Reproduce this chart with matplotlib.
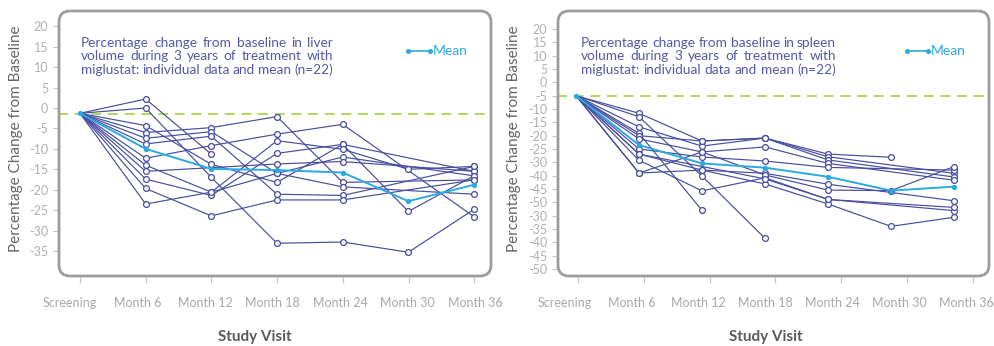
"""Liver / spleen volume change under miglustat: individual patients + mean."""
import matplotlib
matplotlib.use("Agg")
import matplotlib.pyplot as plt
import numpy as np
from matplotlib.patches import FancyBboxPatch

nan = np.nan

VISITS = ["Screening", "Month 6", "Month 12", "Month 18",
          "Month 24", "Month 30", "Month 36"]

# liver: % change from baseline, one row per patient (nan = no visit)
LIVER_PATIENTS = [
    [-1.3, 2.2, -11.3, nan, nan, nan, nan],
    [-1.3, 0.0, -17.0, -33.1, -32.8, -35.3, -24.8],
    [-1.3, -4.3, -13.8, -18.2, -8.9, nan, -15.5],
    [-1.3, -6.0, -4.8, -2.1, -18.2, nan, -17.6],
    [-1.3, -7.4, -5.8, -16.0, -12.0, nan, -16.6],
    [-1.3, -8.8, -6.9, -21.1, -21.4, nan, -14.3],
    [-1.3, -12.3, -9.2, -6.4, -4.0, nan, -26.6],
    [-1.3, -14.0, -20.6, -16.0, -19.3, nan, -21.1],
    [-1.3, -15.5, nan, -13.7, -13.1, nan, -15.5],
    [-1.3, -17.4, -21.4, -11.1, -8.9, -25.3, -16.6],
    [-1.3, -19.7, -26.4, -22.5, -22.5, nan, -17.6],
    [-1.3, -23.5, -20.6, -8.0, -10.1, -15.0, -14.3],
]
LIVER_MEAN = [-1.3, -10.0, -14.9, -15.2, -15.8, -22.8, -18.8]
LIVER_REF = -1.5
LIVER_YTICKS = [20, 15, 10, 5, 0, -5, -10, -15, -20, -25, -30, -35]

SPLEEN_PATIENTS = [
    [-5, -11.6, -22.0, -20.9, -26.9, -28.1, nan],
    [-5, -12.9, -35.1, -58.5, nan, nan, nan],
    [-5, -16.7, -23.9, -20.9, -27.9, nan, -34.1],
    [-5, -19.1, -48.0, nan, nan, nan, nan],
    [-5, -20.0, -22.0, -20.9, -29.1, nan, -35.5],
    [-5, -21.2, -26.1, -24.2, -30.4, nan, -36.7],
    [-5, -25.0, -28.0, -29.5, -31.9, nan, -32.9],
    [-5, -26.9, -32.9, -34.1, -38.2, nan, -44.4],
    [-5, -29.2, -40.7, -35.8, -43.9, nan, -48.1],
    [-5, -34.0, -32.9, -38.1, -45.6, -54.0, -50.6],
    [-5, -34.0, -26.1, -34.7, -40.4, -40.6, -31.6],
    [-5, -26.9, nan, -36.2, -43.9, nan, -46.9],
]
SPLEEN_MEAN = [-5, -23.5, -30.4, -32.0, -35.4, -40.6, -39.1]
SPLEEN_REF = -5
# the source figure's spleen axis labels repeat after -50; kept as printed
SPLEEN_YTICK_LABELS = ["20", "15", "10", "5", "0", "-5", "-10", "-15", "-20",
                       "-25", "-30", "-40", "-45", "-50", "-30", "-35", "-40",
                       "-45", "-50"]

LIVER_TITLE = ["Percentage change from baseline in liver",
               "volume during 3 years of treatment with",
               "miglustat: individual data and mean (n=22)"]
SPLEEN_TITLE = ["Percentage change from baseline in spleen",
                "volume during 3 years of treatment with",
                "miglustat: individual data and mean (n=22)"]

W, H = 994, 346
LINE = "#474c9f"
TITLE = "#5558a8"
CYAN = "#2aaae1"
GREEN = "#a6cf3e"
FRAME = "#9d9d9d"

plt.rcParams["font.family"] = ["Lato", "DejaVu Sans"]


def px_axes(fig, left, top, right, bottom):
    return fig.add_axes([left / W, 1 - bottom / H, (right - left) / W, (bottom - top) / H])


def justified(fig, lines, x0, x1, baselines, **kw):
    """Draw each line word by word, stretched to span x0..x1 (pixels)."""
    r = fig.canvas.get_renderer()
    for line, yb in zip(lines, baselines):
        words = line.split()
        texts = [fig.text(0, 1 - yb / H, w, va="baseline", **kw) for w in words]
        widths = [t.get_window_extent(r).width for t in texts]
        gap = (x1 - x0 - sum(widths)) / max(len(words) - 1, 1)
        x = x0
        for t, w in zip(texts, widths):
            t.set_x(x / W)
            x += w + gap


def panel(fig, box, xlim, ylim, patients, mean, ref, yticks, ylabels,
          tick_px, label_px, title, title_x, legend_x, ylabel_x, study_x):
    left, top, right, bottom = box
    ax = px_axes(fig, left, top, right, bottom)
    ax.set_xlim(xlim)
    ax.set_ylim(ylim)
    for s in ax.spines.values():
        s.set_visible(False)

    ax.axhline(ref, color=GREEN, lw=1.2, ls=(0, (6, 4)), zorder=1)
    for row in patients:
        y = np.asarray(row, float)
        x = np.arange(len(y))
        m = ~np.isnan(y)
        ax.plot(x[m], y[m], color=LINE, lw=0.85, zorder=2)
        ax.plot(x[m][1:], y[m][1:], ls="none", marker="o", ms=4.2,
                mfc="white", mec=LINE, mew=0.9, zorder=3)
    ax.plot(np.arange(len(mean)), mean, color=CYAN, lw=1.4, marker="o",
            ms=2.8, zorder=4)

    ax.set_yticks(yticks)
    ax.set_yticklabels(ylabels)
    ax.tick_params(axis="y", length=3.6, width=0.8, color="#c4c4c4",
                   labelcolor="#b0b0b0", labelsize=9, pad=3.5)
    # tick marks in pixel space -> data units
    px_per_unit = (right - left) / (xlim[1] - xlim[0])
    ax.set_xticks([xlim[0] + (p - left) / px_per_unit for p in tick_px])
    ax.set_xticklabels([])
    ax.tick_params(axis="x", length=4, width=0.9, color="#c4c4c4")

    for name, p in zip(VISITS, label_px):
        fig.text(p / W, 1 - 303 / H, name, ha="center", va="center",
                 fontsize=9, color="#a8a8a8")

    frame = FancyBboxPatch(((left + 1) / 100, (H - bottom + 1) / 100),
                           (right - left - 2) / 100, (bottom - top - 2) / 100,
                           boxstyle="round,pad=0,rounding_size=0.11",
                           transform=fig.dpi_scale_trans, fill=False,
                           ec=FRAME, lw=2.0, zorder=5)
    fig.add_artist(frame)

    justified(fig, title, title_x[0], title_x[1], [47, 60.5, 74],
              fontsize=9.8, color=TITLE)

    lx0, lx1 = legend_x
    fig.add_artist(plt.Line2D([lx0 / W, lx1 / W], [1 - 51 / H] * 2, color=CYAN,
                              lw=1.2, marker="o", ms=2.6, transform=fig.transFigure))
    fig.text((lx1 + 3) / W, 1 - 51 / H, "Mean", va="center", fontsize=10, color=CYAN)

    fig.text(ylabel_x / W, 1 - 139 / H, "Percentage Change from Baseline",
             rotation=90, ha="center", va="center", fontsize=11, color="#666666")
    fig.text(study_x / W, 1 - 337 / H, "Study Visit", ha="center", va="center",
             fontsize=11, fontweight="bold", color="#5a5a5a")
    return ax


def main():
    fig = plt.figure(figsize=(W / 100, H / 100), dpi=100)

    # liver: screening at x=80 px, 65.7 px per visit; 0% at y=108, 4.086 px per %
    panel(fig, (58, 10, 492, 277),
          xlim=(-22 / 65.7, 6 + 18 / 65.7),
          ylim=(-169 / 4.086, 98 / 4.086),
          patients=LIVER_PATIENTS, mean=LIVER_MEAN, ref=LIVER_REF,
          yticks=LIVER_YTICKS, ylabels=[str(v) for v in LIVER_YTICKS],
          tick_px=[80 + 65.7 * i for i in range(7)],
          label_px=np.linspace(70, 475, 7),
          title=LIVER_TITLE, title_x=(81, 333), legend_x=(408, 430),
          ylabel_x=16, study_x=255)

    # spleen: data at x=576 px, 63 px per visit; ticks every 13.33 px from y=29
    spleen_ticks = list(range(20, -71, -5))
    panel(fig, (557, 10, 990, 277),
          xlim=(-19 / 63, 6 + 36 / 63),
          ylim=(20 - 248 / 2.667, 20 + 19 / 2.667),
          patients=SPLEEN_PATIENTS, mean=SPLEEN_MEAN, ref=SPLEEN_REF,
          yticks=spleen_ticks, ylabels=SPLEEN_YTICK_LABELS,
          tick_px=[578 + 65.8 * i for i in range(7)],
          label_px=np.linspace(564.5, 966, 7),
          title=SPLEEN_TITLE, title_x=(581, 836), legend_x=(907, 928),
          ylabel_x=514, study_x=766)

    fig.savefig("out.png", dpi=100)


if __name__ == "__main__":
    main()
